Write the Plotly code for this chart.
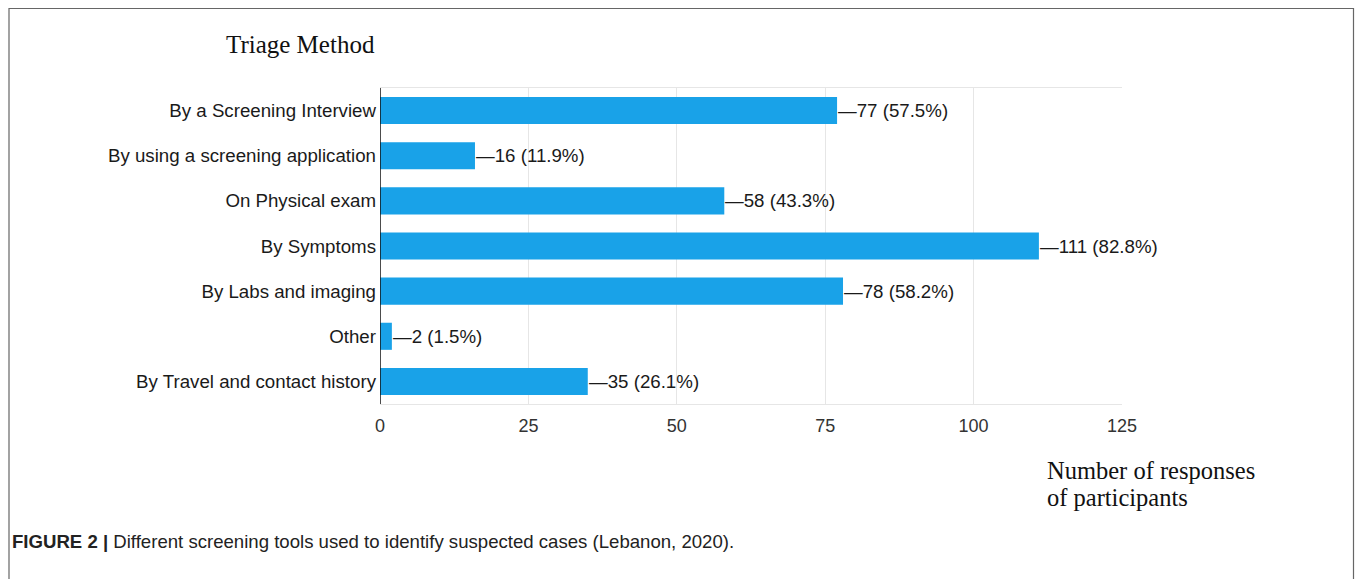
import plotly.graph_objects as go

categories = ["By a Screening Interview", "By using a screening application", "On Physical exam",
              "By Symptoms", "By Labs and imaging", "Other", "By Travel and contact history"]
counts = [77, 16, 58, 111, 78, 2, 35]
percents = ["57.5%", "11.9%", "43.3%", "82.8%", "58.2%", "1.5%", "26.1%"]
x_ticks = [0, 25, 50, 75, 100, 125]

W, H = 1355, 579
L, T, R, B = 380, 88, 1122, 404
pw, ph = R - L, B - T

def px(xp):
    return (xp - L) / pw

def py(yp):
    return (B - yp) / ph

SANS = "Liberation Sans, Arial"
SERIF = "Liberation Serif, Times New Roman"

fig = go.Figure()
fig.add_trace(go.Bar(
    y=categories, x=counts, orientation="h",
    marker=dict(color="#19a2e8", line=dict(width=0)),
    width=0.6, hoverinfo="x+y",
))

for c, v, p in zip(categories, counts, percents):
    fig.add_annotation(x=v, y=c, xref="x", yref="y", text=f"\u2014{v} ({p})",
                       showarrow=False, xanchor="left", yanchor="middle", xshift=-1,
                       font=dict(family=SANS, size=18.7, color="#1a1a1a"))

fig.update_xaxes(range=[0, 125], tickvals=x_ticks, showgrid=True, gridcolor="#e6e6e6", gridwidth=1,
                 zeroline=False, showline=True, linecolor="#e6e6e6", mirror=True,
                 tickfont=dict(family=SANS, size=18, color="#333"), ticks="",
                 ticklabelstandoff=5)
fig.update_yaxes(autorange="reversed", showgrid=False, zeroline=False, showline=False,
                 tickfont=dict(family=SANS, size=18.7, color="#1a1a1a"), ticks="",
                 ticklabelstandoff=3)

fig.add_shape(type="line", xref="x", yref="paper", x0=0, x1=0, y0=0, y1=1,
              line=dict(color="#111", width=1.5))

# outer figure frame (left, top, right; bottom runs off the page)
fig.add_shape(type="path", xref="paper", yref="paper",
              path=f"M {px(9)} {py(700)} L {px(9)} {py(8.5)} L {px(1353.5)} {py(8.5)} L {px(1353.5)} {py(700)}",
              line=dict(color="#666", width=1.2), fillcolor="rgba(0,0,0,0)", layer="above")

fig.add_annotation(xref="paper", yref="paper", x=px(224), y=py(45), text="Triage Method",
                   showarrow=False, xanchor="left", yanchor="middle",
                   font=dict(family=SERIF, size=25, color="#111"))
for txt, yy in [("Number of responses", 470), ("of participants", 497)]:
    fig.add_annotation(xref="paper", yref="paper", x=px(1045), y=py(yy), text=txt, align="left",
                       showarrow=False, xanchor="left", yanchor="middle",
                       font=dict(family=SERIF, size=24.5, color="#111"))
fig.add_annotation(xref="paper", yref="paper", x=px(10), y=py(541),
                   text="<b>FIGURE 2 |</b> Different screening tools used to identify suspected cases (Lebanon, 2020).",
                   showarrow=False, xanchor="left", yanchor="middle",
                   font=dict(family=SANS, size=18.6, color="#222"))

fig.update_layout(
    width=W, height=H,
    margin=dict(l=L, r=W - R, t=T, b=H - B, pad=0),
    paper_bgcolor="white", plot_bgcolor="white",
    showlegend=False, bargap=0.4,
)

fig.write_html("out.html", config={"displayModeBar": False},
               post_script="document.body.style.margin='0px';document.body.style.overflow='hidden';")
